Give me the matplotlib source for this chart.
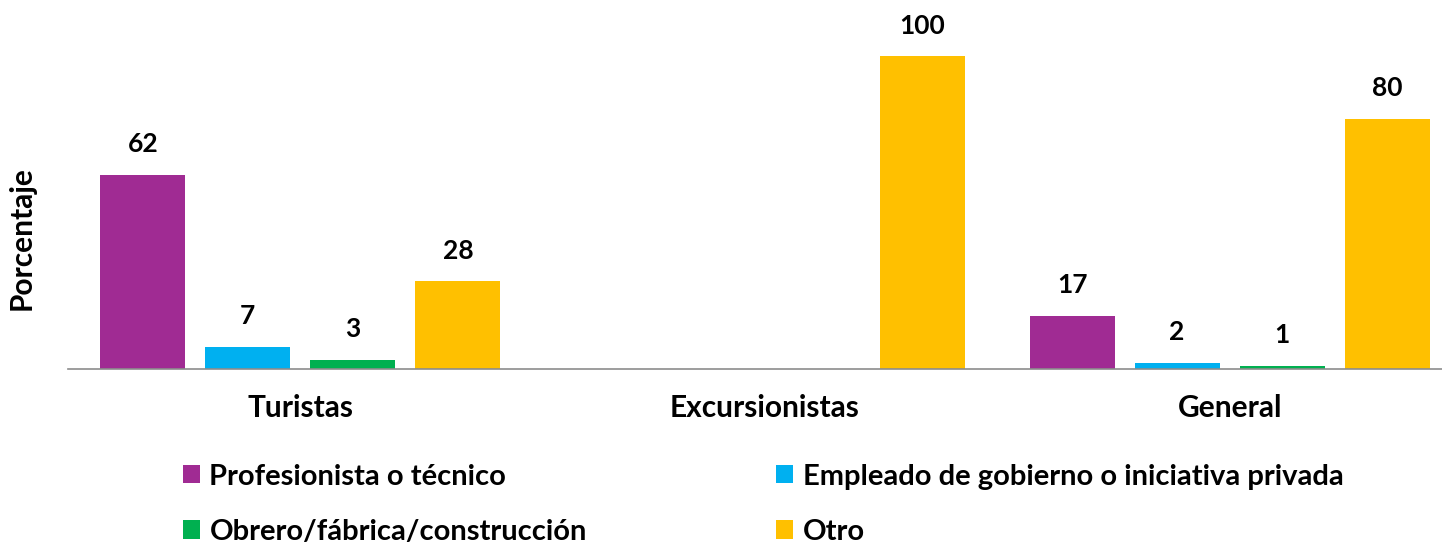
import matplotlib.pyplot as plt
import numpy as np

plt.rcParams['font.family'] = ['Lato', 'DejaVu Sans']
plt.rcParams['font.weight'] = 'bold'

categories = ['Turistas', 'Excursionistas', 'General']
series = ['Profesionista o técnico', 'Empleado de gobierno o iniciativa privada',
          'Obrero/fábrica/construcción', 'Otro']
profesionista = [62, 0, 17]
empleado = [7, 0, 2]
obrero = [3, 0, 1]
otro = [28, 100, 80]
colors = ['#A02B93', '#00B0F0', '#00B050', '#FFC000']

fig = plt.figure(figsize=(14.42, 5.42), dpi=100)
ax = fig.add_axes([68 / 1442, (542 - 369) / 542, (1462 - 68) / 1442, 369 / 542])

x = np.arange(len(categories))
step = 0.226
width = 0.183
values = [profesionista, empleado, obrero, otro]
handles = []
for i, (vals, name, c) in enumerate(zip(values, series, colors)):
    pos = x + (i - 1.5) * step
    bars = ax.bar(pos, vals, width, color=c, label=name)
    handles.append(bars)
    for p, v in zip(pos, vals):
        if v > 0:
            ax.text(p, v + 6, str(v), ha='center', va='bottom',
                    fontsize=19, fontweight='bold')

ax.set_xlim(-0.5, 2.5)
ax.set_ylim(0, 118)
ax.set_yticks([])
ax.set_xticks(x)
ax.set_xticklabels(categories, fontsize=21.5, fontweight='bold')
ax.tick_params(axis='x', length=0, pad=18)
for s in ['top', 'right', 'left']:
    ax.spines[s].set_visible(False)
ax.spines['bottom'].set_color('#8c8c8c')
ax.spines['bottom'].set_linewidth(1.2)
fig.text(22 / 1442, 1 - 238 / 542, 'Porcentaje', rotation=90, ha='center',
         va='center', fontsize=21.5, fontweight='bold')

# legend fills column-wise, so reorder to get rows like the original
order = [0, 2, 1, 3]
fig.legend(handles=[handles[i] for i in order], labels=[series[i] for i in order],
           ncol=2, loc='upper left', bbox_to_anchor=(168 / 1442, 1 - 449 / 542),
           frameon=False, borderpad=0, handlelength=0.58, handleheight=0.58,
           handletextpad=0.34, columnspacing=6.5, labelspacing=1.0,
           prop={'weight': 'bold', 'size': 21})

fig.savefig('out.png', dpi=100)
